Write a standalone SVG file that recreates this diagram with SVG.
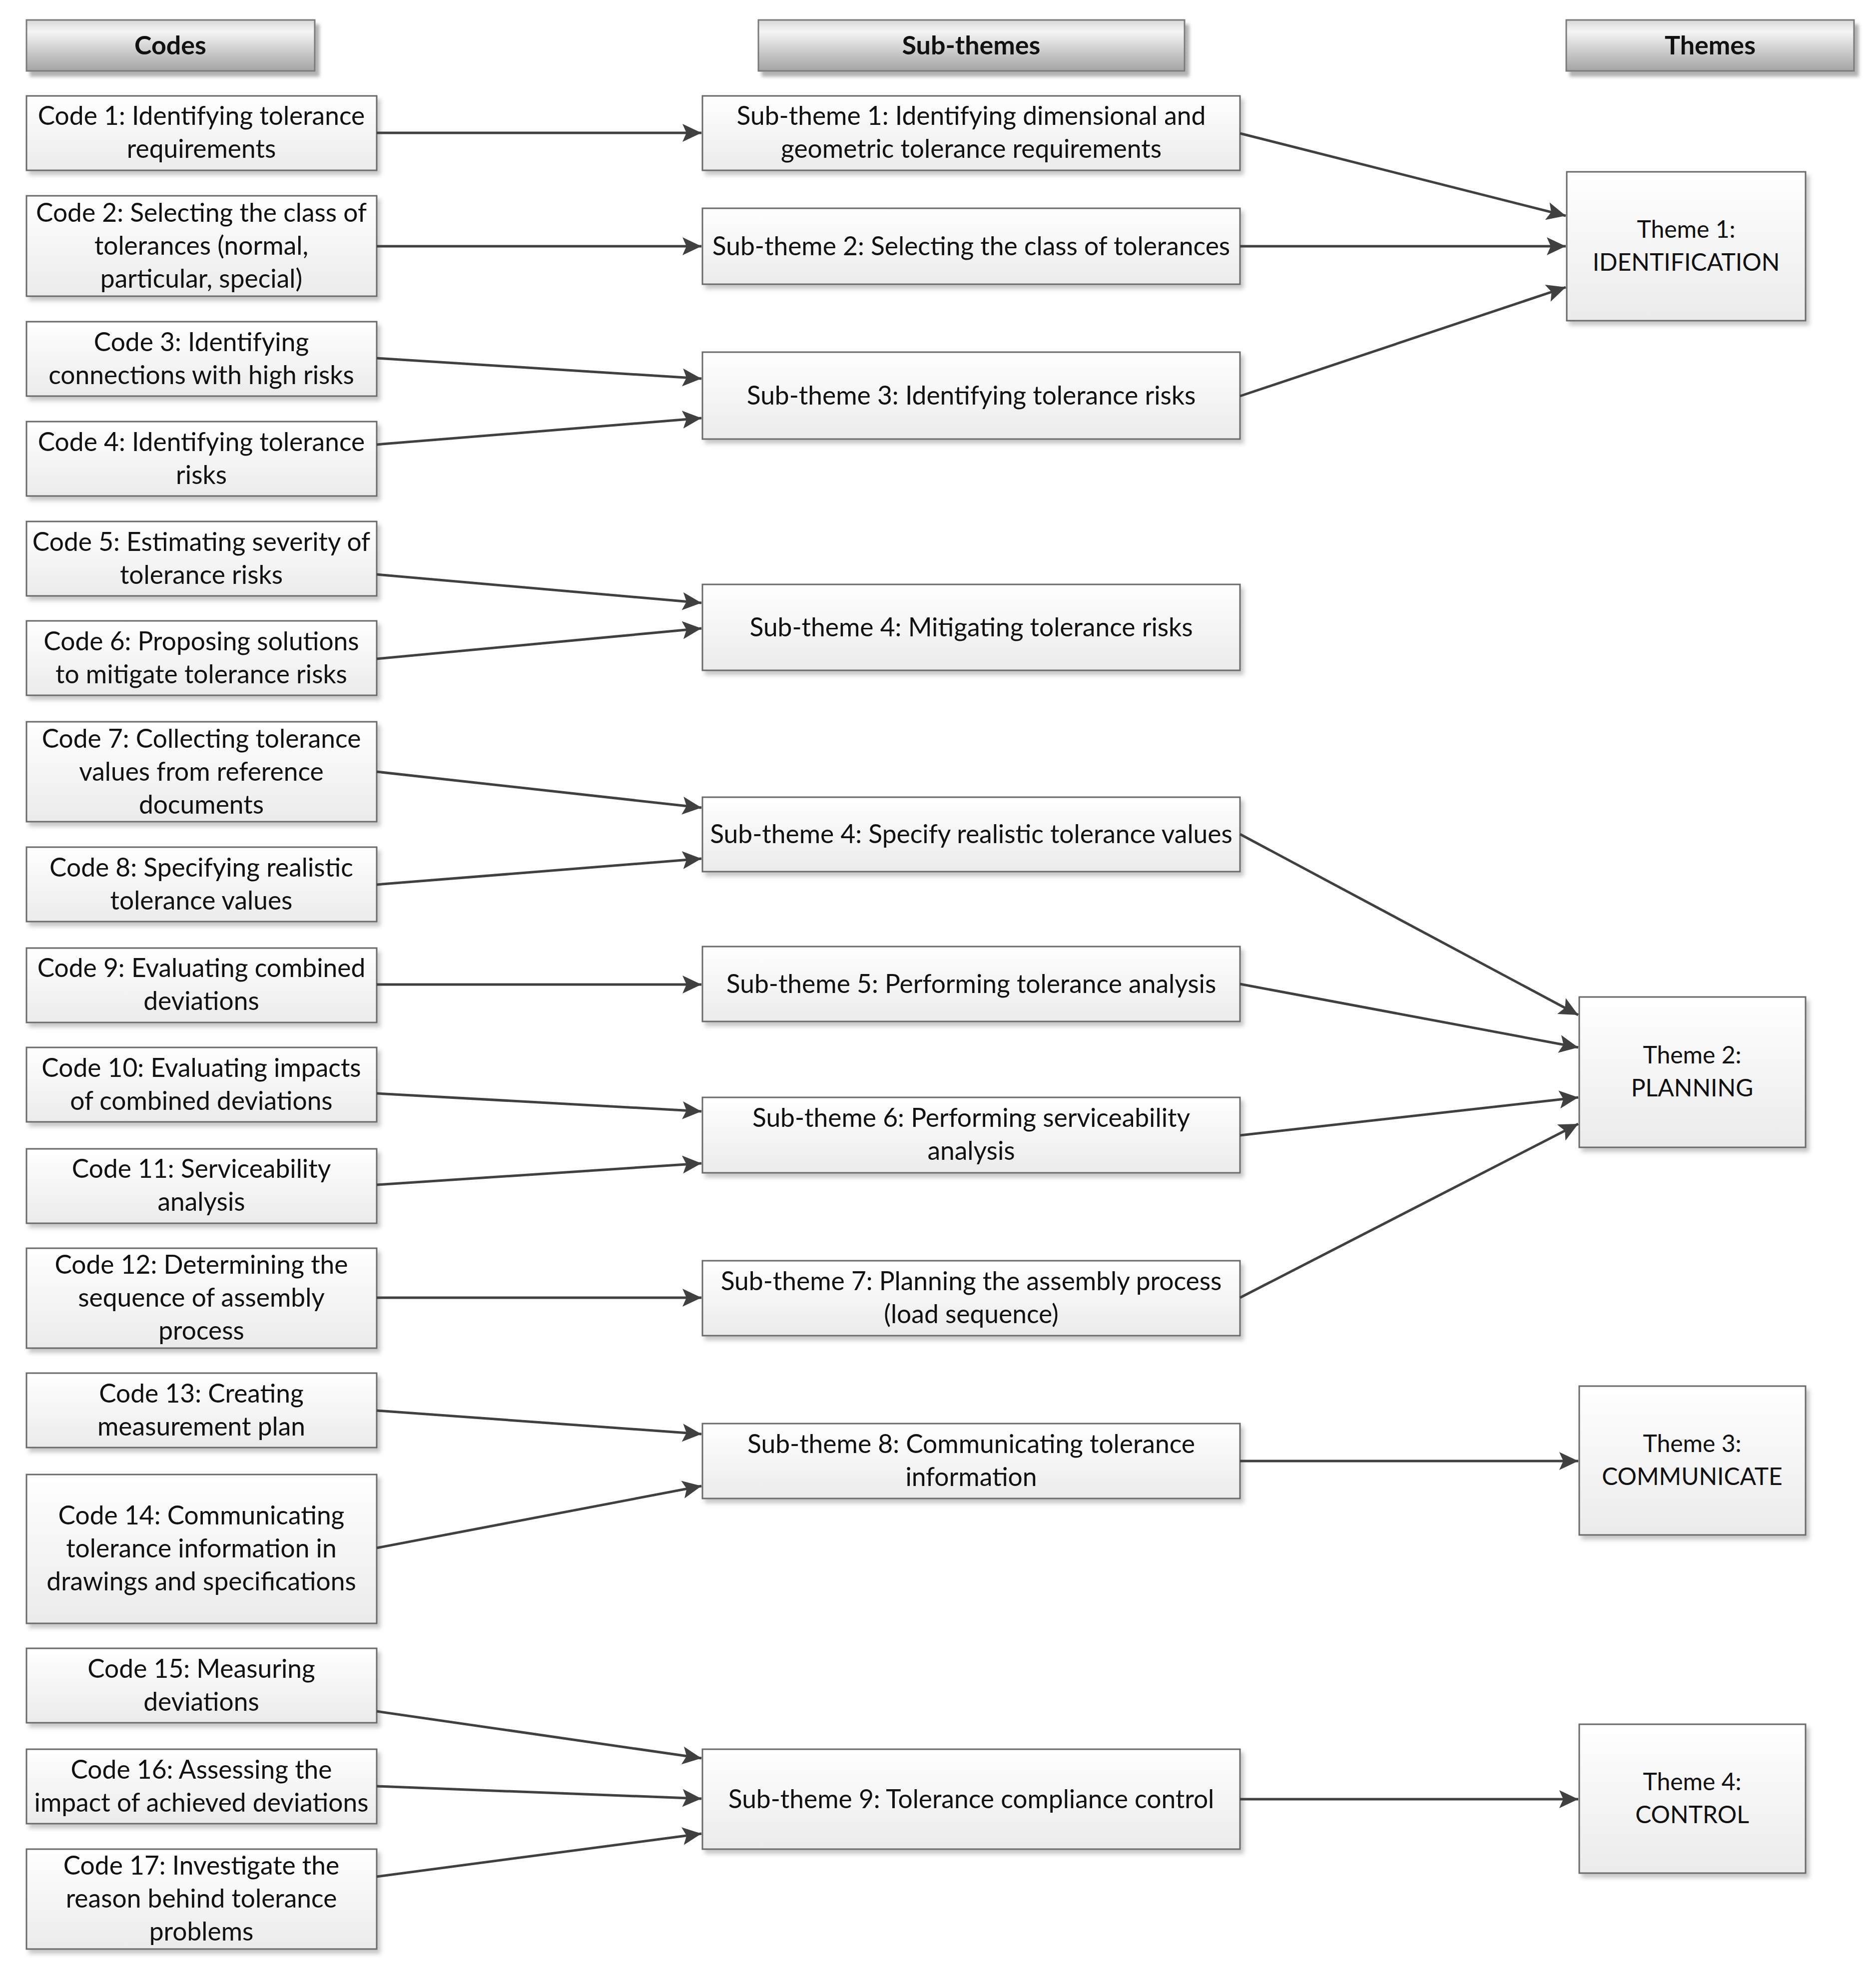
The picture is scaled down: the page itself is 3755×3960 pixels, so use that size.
<svg xmlns="http://www.w3.org/2000/svg" width="3755" height="3960" viewBox="0 0 3755 3960">
<style>
.box{fill:url(#gBox);stroke:#6a6a6a;stroke-width:3;filter:url(#sh)}
.hdr{fill:url(#gHdr);stroke:#7a7a7a;stroke-width:3;filter:url(#sh2)}
text{font-family:Lato,"Liberation Sans",sans-serif;font-size:51.5px;fill:#111;text-anchor:middle}
.h{font-weight:bold;font-size:52px}
.th{font-size:48px}
.cn line{stroke:#404040;stroke-width:5;marker-end:url(#ah)}
</style>
<defs>
<linearGradient id="gBox" x1="0" y1="0" x2="0" y2="1"><stop offset="0" stop-color="#ffffff"/><stop offset="1" stop-color="#ebebeb"/></linearGradient>
<linearGradient id="gHdr" x1="0" y1="0" x2="0" y2="1"><stop offset="0" stop-color="#d6d6d6"/><stop offset="0.22" stop-color="#f5f5f5"/><stop offset="1" stop-color="#a4a4a4"/></linearGradient>
<filter id="sh" x="-5%" y="-10%" width="115%" height="130%"><feDropShadow dx="6" dy="8" stdDeviation="4" flood-color="#000" flood-opacity="0.22"/></filter>
<filter id="sh2" x="-5%" y="-10%" width="115%" height="140%"><feDropShadow dx="8" dy="10" stdDeviation="3" flood-color="#000" flood-opacity="0.3"/></filter>
<marker id="ah" markerUnits="userSpaceOnUse" markerWidth="40" markerHeight="38" refX="38" refY="18" orient="auto"><path d="M0,0 L38,18 L0,36 L8,18 z" fill="#404040"/></marker>
</defs>
<rect width="3755" height="3960" fill="#fff"/>
<g id="headers">
<g id="h-codes"><rect class="hdr" x="53" y="40" width="577" height="102"/><text class="h" x="341" y="109">Codes</text></g>
<g id="h-subthemes"><rect class="hdr" x="1518" y="40" width="853" height="102"/><text class="h" x="1944" y="109">Sub-themes</text></g>
<g id="h-themes"><rect class="hdr" x="3135" y="40" width="576" height="102"/><text class="h" x="3423" y="109">Themes</text></g>
</g>
<g id="codes">
<g id="code1"><rect class="box" x="53" y="192" width="701" height="149"/><text x="403" y="250">Code 1: Identifying tolerance</text><text x="403" y="316">requirements</text></g>
<g id="code2"><rect class="box" x="53" y="392" width="701" height="201"/><text x="403" y="444">Code 2: Selecting the class of</text><text x="403" y="510">tolerances (normal,</text><text x="403" y="576">particular, special)</text></g>
<g id="code3"><rect class="box" x="53" y="644" width="701" height="149"/><text x="403" y="703">Code 3: Identifying</text><text x="403" y="769">connections with high risks</text></g>
<g id="code4"><rect class="box" x="53" y="844" width="701" height="149"/><text x="403" y="903">Code 4: Identifying tolerance</text><text x="403" y="969">risks</text></g>
<g id="code5"><rect class="box" x="53" y="1044" width="701" height="149"/><text x="403" y="1103">Code 5: Estimating severity of</text><text x="403" y="1169">tolerance risks</text></g>
<g id="code6"><rect class="box" x="53" y="1243" width="701" height="149"/><text x="403" y="1302">Code 6: Proposing solutions</text><text x="403" y="1368">to mitigate tolerance risks</text></g>
<g id="code7"><rect class="box" x="53" y="1445" width="701" height="200"/><text x="403" y="1497">Code 7: Collecting tolerance</text><text x="403" y="1563">values from reference</text><text x="403" y="1629">documents</text></g>
<g id="code8"><rect class="box" x="53" y="1696" width="701" height="149"/><text x="403" y="1755">Code 8: Specifying realistic</text><text x="403" y="1821">tolerance values</text></g>
<g id="code9"><rect class="box" x="53" y="1898" width="701" height="149"/><text x="403" y="1956">Code 9: Evaluating combined</text><text x="403" y="2022">deviations</text></g>
<g id="code10"><rect class="box" x="53" y="2097" width="701" height="149"/><text x="403" y="2156">Code 10: Evaluating impacts</text><text x="403" y="2222">of combined deviations</text></g>
<g id="code11"><rect class="box" x="53" y="2300" width="701" height="149"/><text x="403" y="2358">Code 11: Serviceability</text><text x="403" y="2424">analysis</text></g>
<g id="code12"><rect class="box" x="53" y="2499" width="701" height="200"/><text x="403" y="2550">Code 12: Determining the</text><text x="403" y="2616">sequence of assembly</text><text x="403" y="2682">process</text></g>
<g id="code13"><rect class="box" x="53" y="2749" width="701" height="149"/><text x="403" y="2808">Code 13: Creating</text><text x="403" y="2874">measurement plan</text></g>
<g id="code14"><rect class="box" x="53" y="2952" width="701" height="298"/><text x="403" y="3052">Code 14: Communicating</text><text x="403" y="3118">tolerance information in</text><text x="403" y="3184">drawings and specifications</text></g>
<g id="code15"><rect class="box" x="53" y="3300" width="701" height="149"/><text x="403" y="3359">Code 15: Measuring</text><text x="403" y="3425">deviations</text></g>
<g id="code16"><rect class="box" x="53" y="3502" width="701" height="149"/><text x="403" y="3561">Code 16: Assessing the</text><text x="403" y="3627">impact of achieved deviations</text></g>
<g id="code17"><rect class="box" x="53" y="3702" width="701" height="200"/><text x="403" y="3753">Code 17: Investigate the</text><text x="403" y="3819">reason behind tolerance</text><text x="403" y="3885">problems</text></g>
</g>
<g id="subthemes">
<g id="st1"><rect class="box" x="1406" y="192" width="1076" height="149"/><text x="1944" y="250">Sub-theme 1: Identifying dimensional and</text><text x="1944" y="316">geometric tolerance requirements</text></g>
<g id="st2"><rect class="box" x="1406" y="417" width="1076" height="152"/><text x="1944" y="511">Sub-theme 2: Selecting the class of tolerances</text></g>
<g id="st3"><rect class="box" x="1406" y="705" width="1076" height="174"/><text x="1944" y="810">Sub-theme 3: Identifying tolerance risks</text></g>
<g id="st4a"><rect class="box" x="1406" y="1170" width="1076" height="172"/><text x="1944" y="1274">Sub-theme 4: Mitigating tolerance risks</text></g>
<g id="st4b"><rect class="box" x="1406" y="1596" width="1076" height="149"/><text x="1944" y="1688">Sub-theme 4: Specify realistic tolerance values</text></g>
<g id="st5"><rect class="box" x="1406" y="1895" width="1076" height="150"/><text x="1944" y="1988">Sub-theme 5: Performing tolerance analysis</text></g>
<g id="st6"><rect class="box" x="1406" y="2197" width="1076" height="151"/><text x="1944" y="2256">Sub-theme 6: Performing serviceability</text><text x="1944" y="2322">analysis</text></g>
<g id="st7"><rect class="box" x="1406" y="2524" width="1076" height="150"/><text x="1944" y="2583">Sub-theme 7: Planning the assembly process</text><text x="1944" y="2649">(load sequence)</text></g>
<g id="st8"><rect class="box" x="1406" y="2850" width="1076" height="150"/><text x="1944" y="2909">Sub-theme 8: Communicating tolerance</text><text x="1944" y="2975">information</text></g>
<g id="st9"><rect class="box" x="1406" y="3502" width="1076" height="200"/><text x="1944" y="3620">Sub-theme 9: Tolerance compliance control</text></g>
</g>
<g id="themes">
<g id="t1"><rect class="box" x="3136" y="344" width="478" height="298"/><text class="th" x="3375" y="476">Theme 1:</text><text class="th" x="3375" y="542">IDENTIFICATION</text></g>
<g id="t2"><rect class="box" x="3161" y="1996" width="453" height="301"/><text class="th" x="3387" y="2129">Theme 2:</text><text class="th" x="3387" y="2195">PLANNING</text></g>
<g id="t3"><rect class="box" x="3161" y="2775" width="453" height="298"/><text class="th" x="3387" y="2907">Theme 3:</text><text class="th" x="3387" y="2973">COMMUNICATE</text></g>
<g id="t4"><rect class="box" x="3161" y="3452" width="453" height="298"/><text class="th" x="3387" y="3584">Theme 4:</text><text class="th" x="3387" y="3650">CONTROL</text></g>
</g>
<g id="connectors" class="cn">
<line x1="754" y1="266" x2="1404" y2="266"/>
<line x1="754" y1="493" x2="1404" y2="493"/>
<line x1="754" y1="717" x2="1404" y2="758"/>
<line x1="754" y1="890" x2="1404" y2="837"/>
<line x1="754" y1="1150" x2="1404" y2="1207"/>
<line x1="754" y1="1319" x2="1404" y2="1258"/>
<line x1="754" y1="1545" x2="1404" y2="1617"/>
<line x1="754" y1="1771" x2="1404" y2="1719"/>
<line x1="754" y1="1971" x2="1404" y2="1971"/>
<line x1="754" y1="2189" x2="1404" y2="2225"/>
<line x1="754" y1="2372" x2="1404" y2="2329"/>
<line x1="754" y1="2598" x2="1404" y2="2598"/>
<line x1="754" y1="2824" x2="1404" y2="2871"/>
<line x1="754" y1="3099" x2="1404" y2="2975"/>
<line x1="754" y1="3426" x2="1404" y2="3520"/>
<line x1="754" y1="3576" x2="1404" y2="3601"/>
<line x1="754" y1="3757" x2="1404" y2="3671"/>
<line x1="2482" y1="267" x2="3134" y2="432"/>
<line x1="2482" y1="493" x2="3134" y2="493"/>
<line x1="2482" y1="793" x2="3134" y2="575"/>
<line x1="2482" y1="1670" x2="3159" y2="2032"/>
<line x1="2482" y1="1970" x2="3159" y2="2097"/>
<line x1="2482" y1="2273" x2="3159" y2="2197"/>
<line x1="2482" y1="2598" x2="3159" y2="2250"/>
<line x1="2482" y1="2925" x2="3159" y2="2925"/>
<line x1="2482" y1="3602" x2="3159" y2="3602"/>
</g>
</svg>
